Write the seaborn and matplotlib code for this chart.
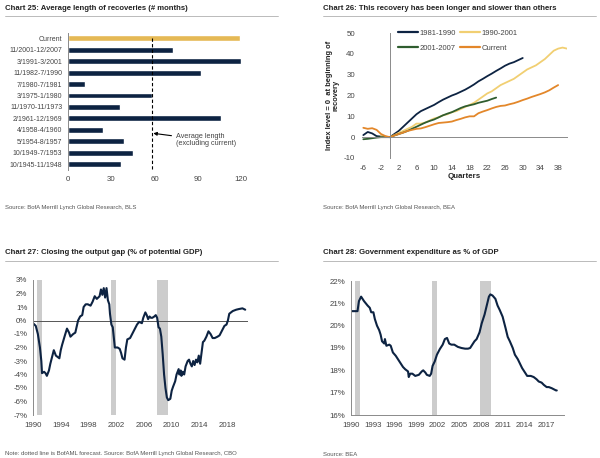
import matplotlib
matplotlib.use("Agg")
import matplotlib.pyplot as plt
import seaborn as sns
import pandas as pd
import numpy as np
from matplotlib.lines import Line2D

sns.set_style("white")
plt.rcParams['font.family'] = ['Liberation Sans', 'DejaVu Sans']
plt.rcParams['axes.unicode_minus'] = False

# ---- Chart 25 data
periods = ['Current', '11/2001-12/2007', '3/1991-3/2001', '11/1982-7/1990', '7/1980-7/1981',
           '3/1975-1/1980', '11/1970-11/1973', '2/1961-12/1969', '4/1958-4/1960',
           '5/1954-8/1957', '10/1949-7/1953', '10/1945-11/1948']
months = [119, 73, 120, 92, 12, 58, 36, 106, 24, 39, 45, 37]

# ---- Chart 26 data (index, quarters from start of recovery)
q_8190 = list(range(-6, 31))
v_8190 = [1.0, 2.5, 1.8, 0.5, 0.3, 0.2, 0, 1.5, 3.0, 5.0, 7.0, 9.0, 11.0, 12.5, 13.5, 14.5, 15.5,
          16.8, 18.0, 19.0, 20.0, 20.8, 21.8, 22.8, 24.0, 25.3, 26.8, 28.0, 29.3, 30.5, 31.8,
          33.0, 34.3, 35.3, 36.0, 37.0, 38.0]
q_9001 = list(range(-2, 41))
v_9001 = [0.5, 0.2, 0, 1.0, 2.0, 3.0, 4.0, 5.0, 6.5, 6.5, 7.0, 8.0, 9.0, 9.5, 10.5, 11.0, 12.0,
          12.5, 13.5, 14.5, 15.5, 16.5, 18.0, 19.5, 21.0, 22.0, 23.5, 25.0, 26.0, 27.0, 28.0,
          29.5, 31.0, 32.5, 33.5, 34.5, 36.0, 37.5, 39.5, 41.5, 42.5, 43.0, 42.5]
q_0107 = list(range(-6, 25))
v_0107 = [-1.0, -0.8, -0.5, -0.2, 0, 0, 0, 0.8, 1.5, 2.2, 3.0, 4.0, 5.0, 6.0, 7.0, 7.8, 8.5,
          9.5, 10.5, 11.3, 12.0, 13.0, 14.0, 14.8, 15.3, 15.8, 16.5, 17.0, 17.5, 18.3, 19.0]
q_curr = list(range(-6, 39))
v_curr = [4.5, 4.0, 4.3, 3.5, 1.5, 0.5, 0, 0.8, 1.5, 2.2, 3.0, 3.5, 4.0, 4.2, 4.8, 5.5, 6.2,
          6.8, 7.0, 7.2, 7.5, 8.2, 8.8, 9.5, 10.0, 10.0, 11.5, 12.3, 13.0, 13.8, 14.5, 15.0,
          15.2, 15.8, 16.3, 17.0, 17.8, 18.5, 19.3, 20.0, 20.7, 21.5, 22.5, 23.8, 25.0]

# ---- Chart 27 data (output gap, %)
gap_year = [1990.0, 1990.4, 1990.7, 1991.0, 1991.2, 1991.3, 1991.6, 1991.8, 1992.0, 1992.3,
            1992.5, 1992.7, 1993.0, 1993.3, 1993.8, 1994.0, 1994.2, 1994.6, 1994.9, 1995.2,
            1995.4, 1995.8, 1996.1, 1996.5, 1996.8, 1997.1, 1997.3, 1997.6, 1997.9, 1998.3,
            1998.6, 1998.9, 1999.2, 1999.6, 1999.8, 2000.0, 2000.2, 2000.4, 2000.6, 2000.8,
            2001.0, 2001.1, 2001.3, 2001.5, 2001.7, 2001.8, 2002.2, 2002.5, 2002.7, 2002.9,
            2003.2, 2003.4, 2003.6, 2004.0, 2004.3, 2004.7, 2005.0, 2005.3, 2005.7, 2005.9,
            2006.2, 2006.4, 2006.6, 2006.8, 2007.0, 2007.2, 2007.5, 2007.7, 2007.9, 2008.1,
            2008.3, 2008.5, 2008.7, 2008.9, 2009.1, 2009.3, 2009.5, 2009.8, 2010.0, 2010.2,
            2010.5, 2010.7, 2011.0, 2011.1, 2011.3, 2011.4, 2011.6, 2011.8, 2012.0, 2012.3,
            2012.5, 2012.7, 2012.9, 2013.1, 2013.3, 2013.5, 2013.7, 2013.9, 2014.1, 2014.3,
            2014.5, 2014.7, 2015.0, 2015.3, 2015.6, 2015.9, 2016.2, 2016.6, 2016.9, 2017.2,
            2017.4, 2017.6, 2017.9, 2018.1, 2018.3, 2018.8, 2019.3, 2019.7, 2020.2, 2020.6]
gap_val = [-0.2, -0.4, -1.0, -2.0, -3.0, -3.9, -3.8, -3.9, -4.1, -3.7,
           -3.2, -2.8, -2.2, -2.6, -2.8, -2.2, -1.8, -1.1, -0.6, -0.9,
           -1.2, -1.0, -0.9, 0.0, 0.3, 0.4, 1.0, 1.2, 1.2, 1.1,
           1.4, 1.8, 1.6, 1.8, 2.3, 1.9, 2.4, 1.7, 2.4, 1.5,
           1.2, 0.5, -0.3, -0.5, -1.5, -2.0, -2.0, -2.1, -2.4, -2.8,
           -2.9, -2.0, -1.4, -1.3, -1.0, -0.6, -0.3, -0.1, -0.2, 0.2,
           0.6, 0.4, 0.1, 0.3, 0.2, 0.2, 0.3, 0.4, 0.2, -0.5,
           -0.6, -1.2, -2.5, -4.0, -5.0, -5.7, -5.9, -5.8, -5.2, -4.9,
           -4.5, -4.0, -3.6, -4.0, -3.7, -4.1, -3.8, -4.0, -3.4, -3.0,
           -2.9, -3.2, -3.4, -3.0, -3.3, -2.9, -3.1, -2.6, -3.2, -2.4,
           -1.6, -1.5, -1.2, -0.8, -1.0, -1.3, -1.3, -1.2, -1.1, -0.8,
           -0.6, -0.4, -0.3, 0.0, 0.5, 0.7, 0.8, 0.85, 0.9, 0.8]

# ---- Chart 28 data (government expenditure, % of GDP)
gov_year = [1990.0, 1990.7, 1990.9, 1991.1, 1991.4, 1991.8, 1992.3, 1992.6, 1992.8, 1993.1,
            1993.3, 1993.6, 1993.9, 1994.1, 1994.3, 1994.6, 1994.7, 1994.9, 1995.3, 1995.5,
            1995.8, 1996.2, 1996.5, 1996.8, 1997.2, 1997.5, 1997.9, 1998.0, 1998.2, 1998.5,
            1998.9, 1999.4, 1999.8, 2000.0, 2000.3, 2000.5, 2000.9, 2001.1, 2001.3, 2001.6,
            2001.9, 2002.3, 2002.7, 2003.0, 2003.3, 2003.6, 2003.9, 2004.3, 2004.8, 2005.3,
            2005.8, 2006.2, 2006.5, 2006.8, 2007.1, 2007.4, 2007.8, 2008.1, 2008.5, 2008.8,
            2009.1, 2009.3, 2009.6, 2010.0, 2010.3, 2010.6, 2011.0, 2011.4, 2011.7, 2012.0,
            2012.4, 2012.7, 2013.1, 2013.4, 2013.7, 2014.1, 2014.4, 2014.9, 2015.3, 2015.7,
            2016.0, 2016.4, 2016.7, 2017.1, 2017.4, 2017.8, 2018.1, 2018.4, 2018.5]
gov_val = [20.65, 20.65, 20.65, 21.1, 21.3, 21.1, 20.9, 20.8, 20.6, 20.6,
           20.3, 20.0, 19.8, 19.6, 19.3, 19.2, 19.4, 19.1, 19.15, 19.1,
           18.8, 18.65, 18.5, 18.35, 18.15, 18.05, 17.95, 17.7, 17.85, 17.85,
           17.75, 17.8, 17.95, 18.0, 17.9, 17.8, 17.75, 17.85, 18.2, 18.4,
           18.7, 18.95, 19.15, 19.4, 19.45, 19.2, 19.15, 19.15, 19.05, 19.0,
           18.97, 18.97, 19.0, 19.15, 19.3, 19.4, 19.7, 20.1, 20.5, 20.9,
           21.3, 21.4, 21.35, 21.2, 20.9, 20.7, 20.4, 19.9, 19.5, 19.3,
           19.0, 18.7, 18.5, 18.3, 18.1, 17.9, 17.75, 17.75, 17.7, 17.6,
           17.5, 17.45, 17.35, 17.25, 17.25, 17.2, 17.15, 17.1, 17.1]

recessions = [(1990.6, 1991.3), (2001.2, 2001.9), (2007.9, 2009.4)]

NAVY = '#0d2342'
GOLD = '#e5b955'
TXT = '#222222'
TICK = '#444444'
SPINE = '#8a8a8a'
FS = 5.0
FS2 = 5.7

W, H = 600, 458
fig = plt.figure(figsize=(6, 4.58), dpi=100)


def px_axes(l, t, r, b):
    return fig.add_axes([l / W, 1 - b / H, (r - l) / W, (b - t) / H])


def header(x, y, title, source, src_y, x_end):
    fig.text(x / W, 1 - y / H, title, fontsize=5.6, fontweight='bold', color=TXT, va='center')
    fig.add_artist(Line2D([x / W, x_end / W], [1 - (y + 8) / H] * 2, color='#b0b0b0', lw=0.6))
    fig.text(x / W, 1 - src_y / H, source, fontsize=4.3, color='#555555', va='center')


def style(ax, fs=FS2):
    for s in ax.spines.values():
        s.set_color(SPINE)
        s.set_linewidth(0.7)
    ax.tick_params(labelsize=fs, colors=TICK, length=2, width=0.6, color=SPINE, pad=2)


# ---------------- Chart 25
ax1 = px_axes(68, 33, 241, 170)
sns.barplot(x=months, y=periods, hue=periods, palette=[GOLD] + [NAVY] * 11,
            legend=False, orient='h', width=0.52, ax=ax1, saturation=1)
style(ax1)
avg = np.mean(months[1:])
ax1.vlines(avg, 0, 11.4, colors='black', linestyles=(0, (3, 2)), lw=0.8)
ax1.annotate('Average length\n(excluding current)', xy=(avg + 0.8, 8.3), xytext=(75, 8.9),
             fontsize=5.2, color=TICK, va='center', ha='left', linespacing=1.1,
             arrowprops=dict(arrowstyle='-|>', color='black', lw=0.8, mutation_scale=5,
                             shrinkA=1, shrinkB=0))
ax1.set_xlim(0, 120)
ax1.set_ylim(11.5, -0.45)
ax1.set_xticks([0, 30, 60, 90, 120])
ax1.set_xlabel('')
ax1.set_ylabel('')
for s in ['top', 'right', 'bottom']:
    ax1.spines[s].set_visible(False)
ax1.tick_params(axis='x', length=0, pad=4, labelsize=FS2)
ax1.tick_params(axis='y', length=2, pad=2, labelsize=FS)
header(5, 8, 'Chart 25: Average length of recoveries (# months)',
       'Source: BofA Merrill Lynch Global Research, BLS', 207, 278)

# ---------------- Chart 26
ax2 = px_axes(362, 33, 567, 158)
sns.lineplot(x=q_8190, y=v_8190, color=NAVY, lw=1.3, label='1981-1990', ax=ax2)
sns.lineplot(x=q_9001, y=v_9001, color='#f1cf72', lw=1.3, label='1990-2001', ax=ax2)
sns.lineplot(x=q_0107, y=v_0107, color='#2f5d2f', lw=1.3, label='2001-2007', ax=ax2)
sns.lineplot(x=q_curr, y=v_curr, color='#e3872a', lw=1.3, label='Current', ax=ax2)
style(ax2)
ax2.set_xlim(-6.3, 40)
ax2.set_ylim(-10, 50)
for s in ['top', 'right']:
    ax2.spines[s].set_visible(False)
ax2.spines['left'].set_position(('data', 0))
ax2.spines['bottom'].set_position(('data', 0))
ax2.set_xticks(np.arange(-6, 39, 4))
ax2.set_yticks(np.arange(-10, 51, 10))
ax2.tick_params(labelleft=False, labelbottom=False)
sy = ax2.secondary_yaxis('left')
sy.set_yticks(np.arange(-10, 51, 10))
sy.spines['left'].set_visible(False)
sy.tick_params(length=0, labelsize=FS2, colors=TICK, pad=5)
sy.set_ylabel('Index level = 0  at beginning of\nrecovery', fontsize=5.4, fontweight='bold',
              color=TXT, labelpad=3, linespacing=1.0)
sx = ax2.secondary_xaxis('bottom')
sx.set_xticks(np.arange(-6, 39, 4))
sx.spines['bottom'].set_visible(False)
sx.tick_params(length=0, labelsize=FS2, colors=TICK, pad=5)
sx.set_xlabel('Quarters', fontsize=5.7, fontweight='bold', color=TXT, labelpad=1)
h, l = ax2.get_legend_handles_labels()
leg = ax2.legend([h[0], h[2], h[1], h[3]], [l[0], l[2], l[1], l[3]], ncol=2, frameon=False,
                 fontsize=5.5, loc='upper left', bbox_to_anchor=(0.15, 1.07), handlelength=2.6,
                 handletextpad=0.2, columnspacing=0.6, labelspacing=1.0, borderpad=0.2,
                 labelcolor=TICK)
for ln in leg.get_lines():
    ln.set_linewidth(1.6)
header(323, 8, 'Chart 26: This recovery has been longer and slower than others',
       'Source: BofA Merrill Lynch Global Research, BEA', 207, 596)

# ---------------- Chart 27
ax3 = px_axes(33, 280, 248, 415)
for a, b in recessions:
    ax3.axvspan(a, b, color='#cccccc', lw=0)
ax3.axhline(0, color='#555555', lw=0.7)
sns.lineplot(x=gap_year, y=gap_val, color=NAVY, lw=1.5, ax=ax3)
style(ax3)
ax3.set_xlim(1990, 2021)
ax3.set_ylim(-7, 3)
ax3.set_xticks(np.arange(1990, 2019, 4))
ax3.set_yticks(np.arange(-7, 4, 1))
ax3.set_yticklabels([f'{v}%' for v in range(-7, 4)])
for s in ['top', 'right', 'bottom']:
    ax3.spines[s].set_visible(False)
ax3.tick_params(axis='x', length=0, pad=5)
header(5, 253, 'Chart 27: Closing the output gap (% of potential GDP)',
       'Note: dotted line is BofAML forecast. Source: BofA Merrill Lynch Global Research, CBO',
       453, 278)

# ---------------- Chart 28
ax4 = px_axes(351, 281, 564, 415)
for a, b in recessions:
    ax4.axvspan(a, b, color='#cccccc', lw=0)
sns.lineplot(x=gov_year, y=gov_val, color=NAVY, lw=1.5, ax=ax4)
style(ax4)
ax4.set_xlim(1990, 2019.5)
ax4.set_ylim(16, 22)
ax4.set_xticks(np.arange(1990, 2018, 3))
ax4.set_yticks(np.arange(16, 23, 1))
ax4.set_yticklabels([f'{v}%' for v in range(16, 23)])
ax4.tick_params(axis='x', pad=3)
for s in ['top', 'right']:
    ax4.spines[s].set_visible(False)
header(323, 253, 'Chart 28: Government expenditure as % of GDP', 'Source: BEA', 454, 596)

fig.savefig('out.png', dpi=100)
